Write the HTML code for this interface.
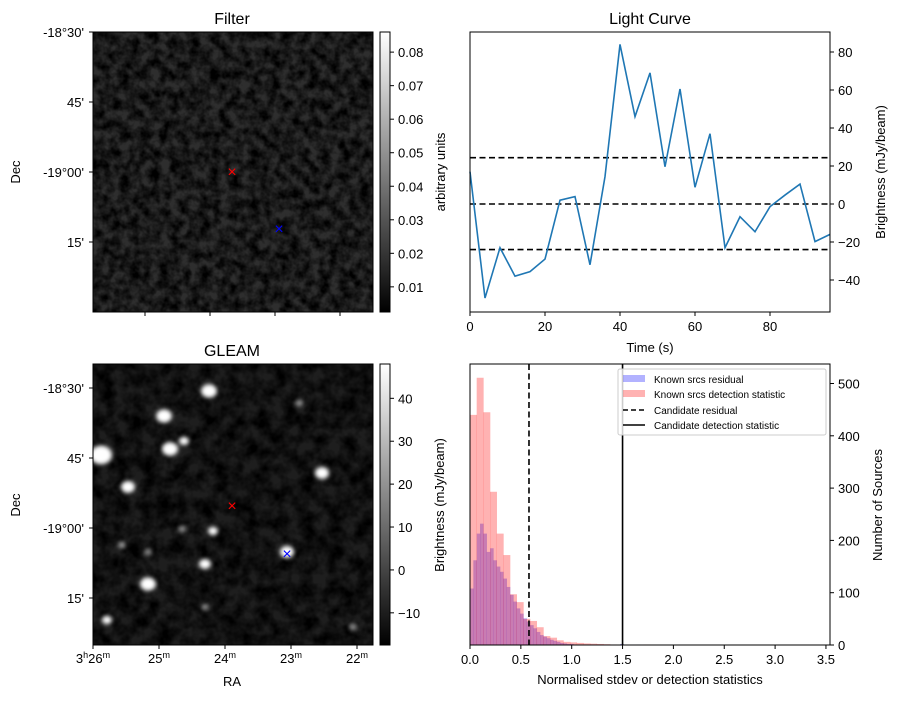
<!DOCTYPE html>
<html><head><meta charset="utf-8"><style>
body{margin:0;background:#fff;}
svg text{font-family:"Liberation Sans","DejaVu Sans",sans-serif;fill:#000;}
</style></head><body>
<svg id="fig" width="898" height="699" viewBox="0 0 898 699" xmlns="http://www.w3.org/2000/svg">
<defs>
<filter id="noiseF" x="0" y="0" width="100%" height="100%">
<feTurbulence type="fractalNoise" baseFrequency="0.1" numOctaves="3" seed="3"/>
<feColorMatrix type="matrix" values="0 0 0 0 0  0 0 0 0 0  0 0 0 0 0  2.0 0 0 0 -0.55"/>
</filter>
<filter id="noiseG" x="0" y="0" width="100%" height="100%">
<feTurbulence type="fractalNoise" baseFrequency="0.07" numOctaves="3" seed="8"/>
<feColorMatrix type="matrix" values="0 0 0 0 0  0 0 0 0 0  0 0 0 0 0  2.0 0 0 0 -0.55"/>
</filter>
<filter id="blur2"><feGaussianBlur stdDeviation="2"/></filter>
<linearGradient id="cbgrad" x1="0" y1="1" x2="0" y2="0"><stop offset="0" stop-color="#000"/><stop offset="1" stop-color="#fff"/></linearGradient>
</defs>

<g>
<text x="232" y="24" font-size="16" text-anchor="middle">Filter</text>
<rect x="93" y="32" width="280" height="280" fill="#2e2e2e"/>
<rect x="93" y="32" width="280" height="280" fill="#d8d8d8" filter="url(#noiseF)"/>
<rect x="93" y="32" width="280" height="280" fill="none" stroke="#000"/>
<text x="232" y="177" font-size="16" text-anchor="middle" style="fill:red">×</text>
<text x="279" y="234" font-size="16" text-anchor="middle" style="fill:blue">×</text>
<g font-size="13" text-anchor="end">
<text x="84" y="37">-18°30'</text><text x="84" y="107">45'</text><text x="84" y="177">-19°00'</text><text x="84" y="247">15'</text>
</g>
<text x="20" y="172" font-size="13" transform="rotate(-90 20 172)" text-anchor="middle">Dec</text>
<g stroke="#000"><line x1="89" y1="32" x2="93" y2="32"/><line x1="89" y1="102" x2="93" y2="102"/><line x1="89" y1="172" x2="93" y2="172"/><line x1="89" y1="242" x2="93" y2="242"/>
<line x1="145" y1="312" x2="145" y2="316"/><line x1="210" y1="312" x2="210" y2="316"/><line x1="275" y1="312" x2="275" y2="316"/><line x1="340" y1="312" x2="340" y2="316"/></g>
<rect x="380" y="32" width="10" height="280" fill="url(#cbgrad)" stroke="#000"/>
<g font-size="13" id="cb1"></g>
<text x="445" y="172" font-size="13" transform="rotate(-90 445 172)" text-anchor="middle">arbitrary units</text>
</g>

<g>
<text x="232" y="356" font-size="16" text-anchor="middle">GLEAM</text>
<rect x="93" y="364" width="280" height="281" fill="#1e1e1e"/>
<rect x="93" y="364" width="280" height="281" fill="#b8b8b8" filter="url(#noiseG)"/>
<g fill="#fff" filter="url(#blur2)" id="blobs"></g>
<rect x="93" y="364" width="280" height="281" fill="none" stroke="#000"/>
<text x="232" y="511" font-size="16" text-anchor="middle" style="fill:red">×</text>
<text x="287" y="559" font-size="16" text-anchor="middle" style="fill:blue">×</text>
<g font-size="13" text-anchor="end">
<text x="84" y="393">-18°30'</text><text x="84" y="463">45'</text><text x="84" y="533">-19°00'</text><text x="84" y="603">15'</text>
</g>
<text x="20" y="505" font-size="13" transform="rotate(-90 20 505)" text-anchor="middle">Dec</text>
<g stroke="#000"><line x1="89" y1="388" x2="93" y2="388"/><line x1="89" y1="458" x2="93" y2="458"/><line x1="89" y1="528" x2="93" y2="528"/><line x1="89" y1="598" x2="93" y2="598"/>
<line x1="93" y1="645" x2="93" y2="649"/><line x1="159" y1="645" x2="159" y2="649"/><line x1="225" y1="645" x2="225" y2="649"/><line x1="291" y1="645" x2="291" y2="649"/><line x1="357" y1="645" x2="357" y2="649"/></g>
<g font-size="13" text-anchor="middle">
<text x="93" y="663">3<tspan font-size="9" dy="-5">h</tspan><tspan dy="5">26</tspan><tspan font-size="9" dy="-5">m</tspan></text>
<text x="159" y="663">25<tspan font-size="9" dy="-5">m</tspan></text>
<text x="225" y="663">24<tspan font-size="9" dy="-5">m</tspan></text>
<text x="291" y="663">23<tspan font-size="9" dy="-5">m</tspan></text>
<text x="357" y="663">22<tspan font-size="9" dy="-5">m</tspan></text>
</g>
<text x="232" y="686" font-size="13" text-anchor="middle">RA</text>
<rect x="380" y="364" width="10" height="281" fill="url(#cbgrad)" stroke="#000"/>
<g font-size="13" id="cb2"></g>
</g>

<g>
<text x="650" y="24" font-size="16" text-anchor="middle">Light Curve</text>
<g id="lc"></g>
<rect x="470" y="32" width="360" height="280" fill="none" stroke="#000"/>
<text x="650" y="352" font-size="13" text-anchor="middle">Time (s)</text>
<text x="885" y="172" font-size="13" transform="rotate(-90 885 172)" text-anchor="middle">Brightness (mJy/beam)</text>
</g>

<g>
<g id="hist"></g>
<rect x="470" y="364" width="360" height="281" fill="none" stroke="#000"/>
<text x="650" y="684" font-size="13" text-anchor="middle">Normalised stdev or detection statistics</text>
<text x="444" y="505" font-size="13" transform="rotate(-90 444 505)" text-anchor="middle">Brightness (mJy/beam)</text>
<text x="882" y="505" font-size="13" transform="rotate(-90 882 505)" text-anchor="middle">Number of Sources</text>
<g>
<rect x="618" y="369" width="208" height="66" fill="#fff" fill-opacity="0.8" stroke="#ccc" rx="2"/>
<rect x="623" y="375" width="22" height="7" fill="#00f" fill-opacity="0.3"/>
<text x="654" y="383" font-size="10">Known srcs residual</text>
<rect x="623" y="390" width="22" height="7" fill="#f00" fill-opacity="0.3"/>
<text x="654" y="398" font-size="10">Known srcs detection statistic</text>
<line x1="623" y1="410" x2="645" y2="410" stroke="#000" stroke-width="1.5" stroke-dasharray="5,3"/>
<text x="654" y="414" font-size="10">Candidate residual</text>
<line x1="623" y1="425" x2="645" y2="425" stroke="#000" stroke-width="1.5"/>
<text x="654" y="429" font-size="10">Candidate detection statistic</text>
</g>
</g>
</svg>
<script>
const NS="http://www.w3.org/2000/svg";
function mk(tag,attrs,parent){const e=document.createElementNS(NS,tag);for(const k in attrs)e.setAttribute(k,attrs[k]);parent.appendChild(e);return e;}

const cb1Ticks=[0.01,0.02,0.03,0.04,0.05,0.06,0.07,0.08];
const cb1Min=0.0025, cb1Max=0.086;
const cb2Ticks=[-10,0,10,20,30,40];
const cb2Min=-17.5, cb2Max=48;
function drawCb(gid,ticks,mn,mx,y0,y1,fmt){
  const g=document.getElementById(gid);
  ticks.forEach(t=>{
    const y=y1-(t-mn)/(mx-mn)*(y1-y0);
    const l=mk('line',{x1:390,x2:394,y1:y,y2:y,stroke:'#000'},g);
    
    
    const tx=mk('text',{x:398,y:y+5,'font-size':13},g);
    
    
    tx.textContent=fmt(t);
  });
}
drawCb('cb1',cb1Ticks,cb1Min,cb1Max,32,312,t=>t.toFixed(2));
drawCb('cb2',cb2Ticks,cb2Min,cb2Max,364,645,t=>t<0?'\u2212'+(-t):String(t));

const blobX=[209,164,170,184,101,128,148,205,287,322,299,213,122,107,182,148,205,353];
const blobY=[391,416,449,441,455,487,584,564,552,473,403,531,545,620,529,552,607,627];
const blobR=[8,8,8,5,11,7,8,6,7,7,4,5,4,5,4,4,4,4];
const bg=document.getElementById('blobs');
blobX.forEach((x,i)=>{const c=mk('ellipse',{cx:x,cy:blobY[i],rx:blobR[i],ry:blobR[i]*0.85},bg);


if(blobR[i]<5)c.setAttribute('fill-opacity','0.55');});

const lcTime=[0,4,8,12,16,20,24,28,32,36,40,44,48,52,56,60,64,68,72,76,80,84,88,92,96];
const lcFlux=[17,-49.5,-23,-38,-35.6,-29,2,3.9,-32,14.4,84,46,69,19.6,60.5,8.8,37,-23,-6.7,-14.6,-1.4,4.7,10.5,-19.8,-16];
const lcHLines=[24.4,0,-24];
const lcXTicks=[0,20,40,60,80];
const lcYTicks=[-40,-20,0,20,40,60,80];
const lcX=t=>470+t/96*360;
const lcY=v=>204-v*1.9;
const lc=document.getElementById('lc');
lcHLines.forEach(v=>{const l=mk('line',{x1:470,x2:830,y1:lcY(v),y2:lcY(v),stroke:'#000','stroke-width':1.6,'stroke-dasharray':'6,3.5'},lc);

});
const p=mk('polyline',{points:lcTime.map((t,i)=>lcX(t)+','+lcY(lcFlux[i])).join(' '),fill:'none',stroke:'#1f77b4','stroke-width':1.6},lc);


lcXTicks.forEach(t=>{mk('line',{x1:lcX(t),x2:lcX(t),y1:312,y2:316,stroke:'#000'},lc);
const tx=mk('text',{x:lcX(t),y:331,'font-size':13,'text-anchor':'middle'},lc);


tx.textContent=t;});
lcYTicks.forEach(v=>{mk('line',{x1:830,x2:834,y1:lcY(v),y2:lcY(v),stroke:'#000'},lc);
const tx=mk('text',{x:838,y:lcY(v)+5,'font-size':13},lc);


tx.textContent=v<0?'\u2212'+(-v):v;});

const redBinW=0.0656;
const redCounts=[440,511,445,293,213,172,97,82,50,46,34,17,14,9,6,5,4,3,2.5,2,1.5,1,0,0,0,0,1,0,0,0,0,0,0,0,0,0,0,0,0,0,0,0,0,0,0,0,0,0,0,0,0,0,0,0,0,0,0,0,0,0,0,0,0,0,0,0,0,0,0,0,0,0,0,2,0,0,0,0,0,0,0,0,0,0,0,0,0,0,0,0,0,0,0,0,0,0,0,0,0,0,0,2,2];
const blueBinW=0.0328;
const blueCounts=[108,162,213,232,213,178,185,162,150,140,127,111,96,83,70,60,51,45,38,32,25,19,16,13,10,8,6,4,3,2,2,1,1,1,1,1,1,1,1,0,0,0,0,0,0,2,0,0,0,0,1];
const hXTicks=[0,0.5,1,1.5,2,2.5,3,3.5];
const hYTicks=[0,100,200,300,400,500];
const candResidual=0.58, candDetect=1.5;
const hX=v=>470+v*101.7;
const hY=c=>645-c*0.523;
const hg=document.getElementById('hist');
blueCounts.forEach((c,i)=>{if(!c)return;const r=mk('rect',{x:hX(i*blueBinW),y:hY(c),width:blueBinW*101.7+0.3,height:645-hY(c),fill:'#00f','fill-opacity':0.3},hg);

});
redCounts.forEach((c,i)=>{if(!c)return;const r=mk('rect',{x:hX(i*redBinW),y:hY(c),width:redBinW*101.7+0.3,height:645-hY(c),fill:'#f00','fill-opacity':0.3},hg);

});
let l1=mk('line',{x1:hX(candResidual),x2:hX(candResidual),y1:364,y2:645,stroke:'#000','stroke-width':1.6,'stroke-dasharray':'6,3.5'},hg);


let l2=mk('line',{x1:hX(candDetect),x2:hX(candDetect),y1:364,y2:645,stroke:'#000','stroke-width':1.6},hg);


hXTicks.forEach(t=>{mk('line',{x1:hX(t),x2:hX(t),y1:645,y2:649,stroke:'#000'},hg);
const tx=mk('text',{x:hX(t),y:664,'font-size':13,'text-anchor':'middle'},hg);


tx.textContent=t.toFixed(1);});
hYTicks.forEach(c=>{mk('line',{x1:830,x2:834,y1:hY(c),y2:hY(c),stroke:'#000'},hg);
const tx=mk('text',{x:838,y:hY(c)+5,'font-size':13},hg);


tx.textContent=c;});
</script>
</body></html>
